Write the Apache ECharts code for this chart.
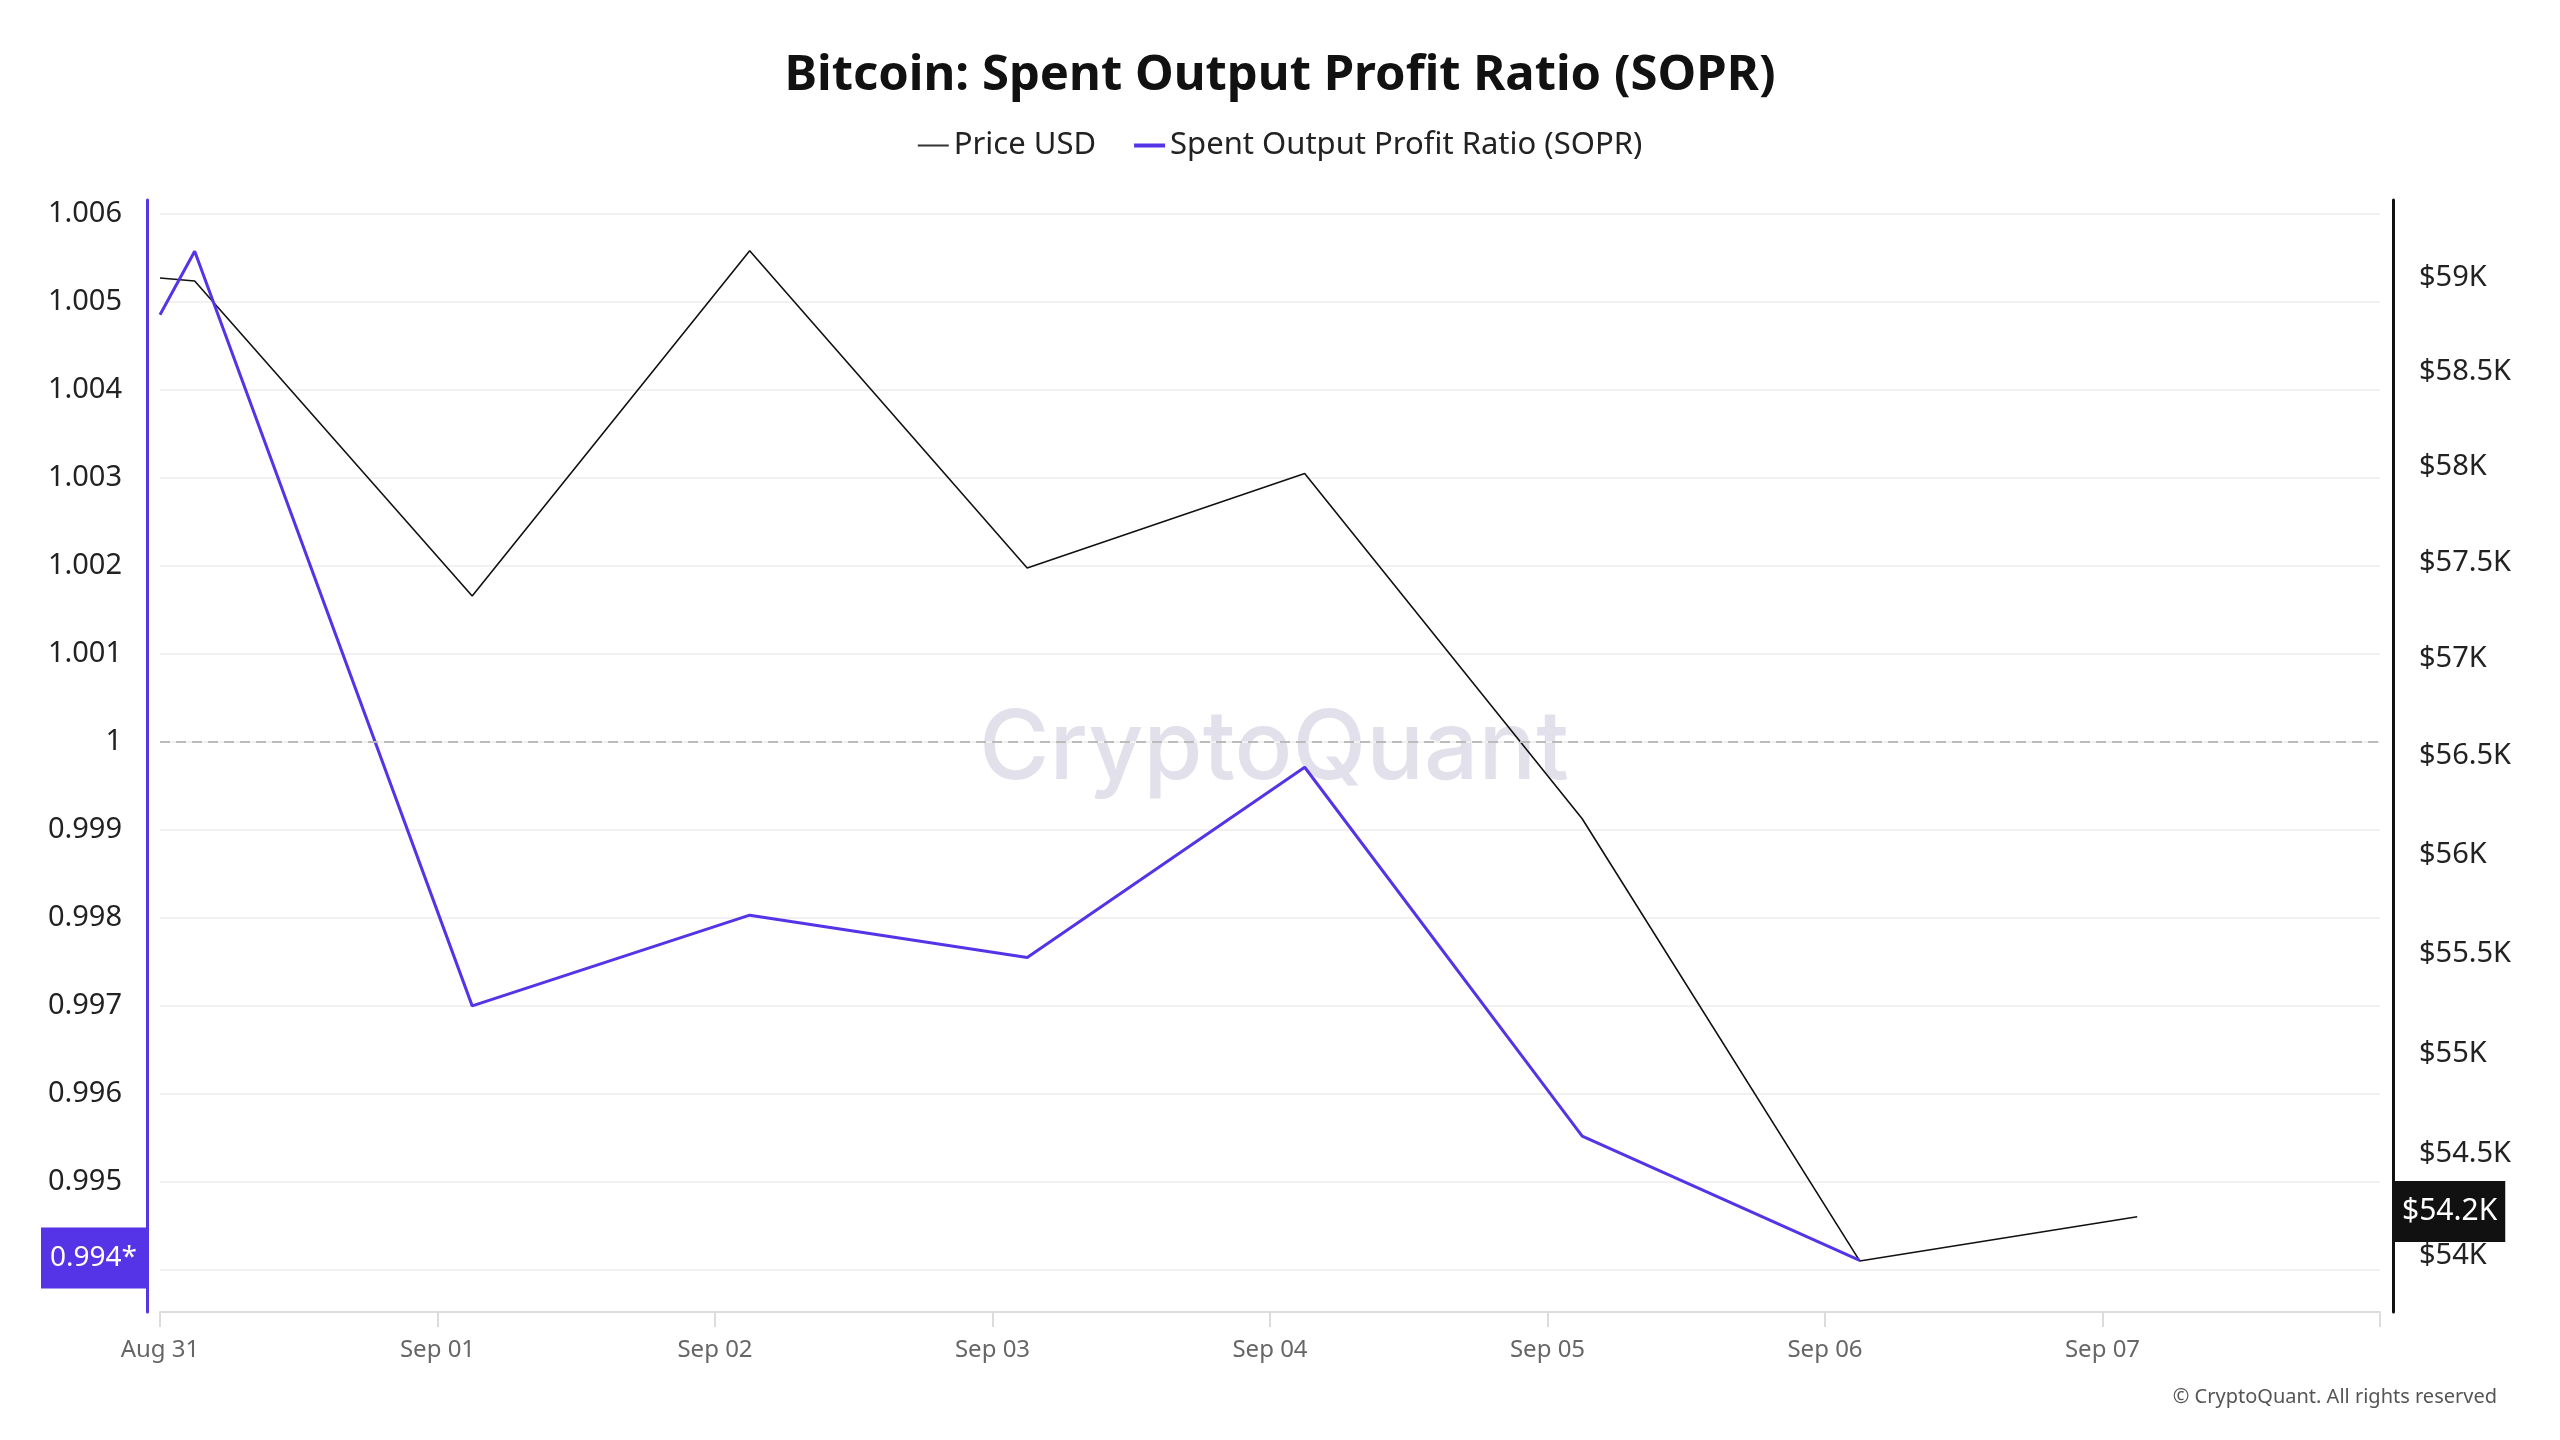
<!DOCTYPE html>
<html>
<head>
<meta charset="utf-8">
<script src="https://cdn.jsdelivr.net/npm/echarts@6/dist/echarts.min.js"></script>
<style>
html,body{margin:0;padding:0;background:#ffffff;}
#chart{width:2560px;height:1440px;}
</style>
</head>
<body>
<div id="chart"></div>
<script>
// ---- data ----
const pointTimes = [
  '2024-08-31T00:00:00Z', '2024-08-31T03:00:00Z', '2024-09-01T03:00:00Z', '2024-09-02T03:00:00Z',
  '2024-09-03T03:00:00Z', '2024-09-04T03:00:00Z', '2024-09-05T03:00:00Z', '2024-09-06T03:00:00Z',
  '2024-09-07T03:00:00Z'
];
const priceUsd = [59000, 58984, 57325, 59146, 57471, 57965, 56181, 53976, 54192];
const soprValues = [1.00485, 1.00557, 0.99700, 0.99803, 0.99755, 0.99971, 0.99552, 0.99411];
const soprBaseline = 1;
// latest-value badges (as read from the badge positions)
const latestSopr = 0.99421;
const latestPrice = 54245;
const xTickTimes = [
  '2024-08-31T00:00:00Z', '2024-09-01T00:00:00Z', '2024-09-02T00:00:00Z', '2024-09-03T00:00:00Z',
  '2024-09-04T00:00:00Z', '2024-09-05T00:00:00Z', '2024-09-06T00:00:00Z', '2024-09-07T00:00:00Z'
];
const xTickLabels = ['Aug 31', 'Sep 01', 'Sep 02', 'Sep 03', 'Sep 04', 'Sep 05', 'Sep 06', 'Sep 07'];
const soprTicks = [0.994, 0.995, 0.996, 0.997, 0.998, 0.999, 1, 1.001, 1.002, 1.003, 1.004, 1.005, 1.006];
const soprTickLabels = ['0.994', '0.995', '0.996', '0.997', '0.998', '0.999', '1', '1.001', '1.002', '1.003', '1.004', '1.005', '1.006'];
const priceTicks = [54000, 54500, 55000, 55500, 56000, 56500, 57000, 57500, 58000, 58500, 59000];
const priceTickLabels = ['$54K', '$54.5K', '$55K', '$55.5K', '$56K', '$56.5K', '$57K', '$57.5K', '$58K', '$58.5K', '$59K'];
const xRange = ['2024-08-31T00:00:00Z', '2024-09-08T00:00:00Z'];
const soprRange = [0.993523, 1.006153];
const priceRange = [53727, 59418];

// ---- build ----
const DAY = 86400000;
const ts = s => new Date(s).getTime();
const xTickValues = xTickTimes.map(ts);
const priceData = priceUsd.map((v, i) => [ts(pointTimes[i]), v]);
const soprData = soprValues.map((v, i) => [ts(pointTimes[i]), v]);
const PURPLE = '#5533e6';
const FONT = '"Noto Sans", "Open Sans", sans-serif';

const chart = echarts.init(document.getElementById('chart'), null, {renderer: 'canvas'});
chart.setOption({
  animation: false,
  backgroundColor: '#ffffff',
  textStyle: {fontFamily: FONT},
  title: {
    text: 'Bitcoin: Spent Output Profit Ratio (SOPR)',
    left: 'center',
    top: 47,
    textStyle: {fontSize: 49, fontWeight: 'bold', color: '#111111', fontFamily: FONT}
  },
  legend: {
    top: 125,
    left: 'center',
    itemWidth: 31,
    itemHeight: 14,
    itemGap: 38,
    symbolKeepAspect: true,
    textStyle: {fontSize: 31, color: '#222222', fontFamily: FONT},
    data: [
      {name: 'Price USD', icon: 'path://M0 0H31V2H0Z'},
      {name: 'Spent Output Profit Ratio (SOPR)', icon: 'path://M0 0H31V4H0Z'}
    ]
  },
  graphic: [
    {
      type: 'text', x: 1274, y: 750, silent: true, z: 0,
      style: {text: 'CryptoQuant', fontSize: 96, fontWeight: 500, fontFamily: 'Inter, "Noto Sans", sans-serif',
        fill: 'rgba(212,209,226,0.68)', textAlign: 'center', textVerticalAlign: 'middle'}
    },
    {
      type: 'text', right: 63, top: 1387, silent: true,
      style: {text: '\u00a9 CryptoQuant. All rights reserved', fontSize: 20, fontFamily: FONT, fill: '#555555'}
    }
  ],
  grid: {left: 160, right: 180, top: 200, bottom: 128, containLabel: false},
  xAxis: {
    type: 'value',
    min: ts(xRange[0]),
    max: ts(xRange[1]),
    interval: DAY,
    axisLine: {show: true, lineStyle: {color: '#dcdcdc', width: 2}},
    axisTick: {show: true, length: 15, lineStyle: {color: '#dcdcdc', width: 2}},
    splitLine: {show: false},
    axisLabel: {
      fontSize: 24, color: '#666666', margin: 26, fontFamily: FONT,
      formatter: v => {
        const i = xTickValues.indexOf(v);
        return i >= 0 ? xTickLabels[i] : '';
      }
    }
  },
  yAxis: [
    {
      type: 'value',
      position: 'left',
      min: soprRange[0],
      max: soprRange[1],
      offset: 13,
      axisLine: {show: true, lineStyle: {color: PURPLE, width: 3}},
      axisTick: {show: false, customValues: soprTicks},
      splitLine: {show: true, lineStyle: {color: '#f1f1f1', width: 2}},
      axisLabel: {
        customValues: soprTicks,
        fontSize: 29, color: '#222222', margin: 25, fontFamily: FONT,
        formatter: v => {
          const i = soprTicks.findIndex(t => Math.abs(t - v) < 1e-7);
          return i >= 0 ? soprTickLabels[i] : '';
        }
      },
      axisPointer: {
        show: true, status: 'show', value: latestSopr,
        triggerTooltip: false, type: 'line', lineStyle: {opacity: 0},
        label: {
          show: true, backgroundColor: PURPLE, color: '#ffffff', fontSize: 28, fontFamily: FONT,
          lineHeight: 41, padding: [10, 9, 10, 9], margin: 1, borderRadius: 0, shadowBlur: 0,
          formatter: p => Number(p.value).toFixed(3) + '*'
        }
      }
    },
    {
      type: 'log',
      logBase: 10,
      position: 'right',
      min: priceRange[0],
      max: priceRange[1],
      offset: 13,
      axisLine: {show: true, lineStyle: {color: '#111111', width: 3}},
      axisTick: {show: false, customValues: priceTicks},
      splitLine: {show: false},
      axisLabel: {
        customValues: priceTicks,
        fontSize: 29, color: '#222222', margin: 26, fontFamily: FONT,
        formatter: v => {
          const i = priceTicks.findIndex(t => Math.abs(t - v) < 0.5);
          return i >= 0 ? priceTickLabels[i] : '';
        }
      },
      axisPointer: {
        show: true, status: 'show', value: latestPrice,
        triggerTooltip: false, type: 'line', lineStyle: {opacity: 0},
        label: {
          show: true, backgroundColor: '#111111', color: '#ffffff', fontSize: 30, fontFamily: FONT,
          lineHeight: 41, padding: [10, 8, 10, 8], margin: 1, borderRadius: 0, shadowBlur: 0,
          formatter: p => '$' + (Number(p.value) / 1000).toFixed(1) + 'K'
        }
      }
    }
  ],
  series: [
    {
      name: 'Price USD',
      type: 'line',
      yAxisIndex: 1,
      data: priceData,
      symbol: 'none',
      lineStyle: {color: '#111111', width: 1.6},
      itemStyle: {color: '#333333'},
      z: 3
    },
    {
      name: 'Spent Output Profit Ratio (SOPR)',
      type: 'line',
      yAxisIndex: 0,
      data: soprData,
      symbol: 'none',
      lineStyle: {color: PURPLE, width: 3},
      itemStyle: {color: PURPLE},
      z: 4,
      markLine: {
        silent: true,
        symbol: 'none',
        label: {show: false},
        lineStyle: {color: '#bbbbbb', type: [10, 6], width: 2},
        data: [{yAxis: soprBaseline}]
      }
    }
  ]
});
</script>
</body>
</html>
